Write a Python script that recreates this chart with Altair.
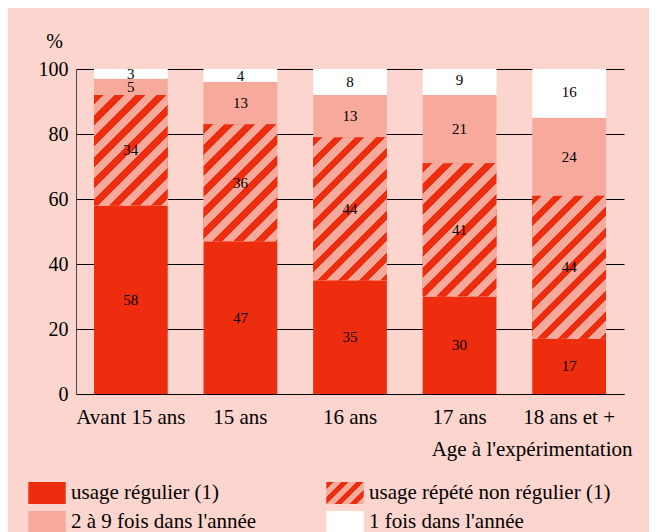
import json
import altair as alt
import pandas as pd

# ---------------- data ----------------
ages = ["Avant 15 ans", "15 ans", "16 ans", "17 ans", "18 ans et +"]
categories = [
    "usage régulier (1)",
    "usage répété non régulier (1)",
    "2 à 9 fois dans l'année",
    "1 fois dans l'année",
]
regulier = [58, 47, 35, 30, 17]
repete = [34, 36, 44, 41, 44]
deux_neuf = [5, 13, 13, 21, 24]
une_fois = [3, 4, 8, 9, 16]
y_ticks = [0, 20, 40, 60, 80, 100]

# ---------------- style ----------------
RED = "#EE2D0E"
SALMON = "#F7AA9B"
WHITE = "#FFFFFF"
BG = "#FCD5CE"
SERIF = "'Liberation Serif', 'Times New Roman', serif"

W, H = 548, 325
P_IN, P_OUT = 0.327, 0.164
bw = W / (len(ages) - P_IN + 2 * P_OUT) * (1 - P_IN)
px_per_unit = H / 100.0


def hatch(w, h, period, frac):
    """Diagonal '/' stripes as a linear gradient in bbox units."""
    L = w + h
    s = w * L / (w * w + h * h)
    stops = []
    pos = 0.0
    while pos < L:
        a = round(pos / L, 5)
        b = round(min((pos + frac * period) / L, 1), 5)
        c = round(min((pos + period) / L, 1), 5)
        stops += [
            {"offset": a, "color": RED},
            {"offset": b, "color": RED},
            {"offset": b, "color": SALMON},
            {"offset": c, "color": SALMON},
        ]
        pos += period
    return {"gradient": "linear", "x1": 0, "y1": 0,
            "x2": round(s, 5), "y2": round(s * h / w, 5), "stops": stops}


rows = []
for i, a in enumerate(ages):
    for j, vals in enumerate([regulier, repete, deux_neuf, une_fois]):
        rows.append({"age": a, "cat": categories[j], "order": j, "value": vals[i]})
df = pd.DataFrame(rows)

legend_hatch = hatch(37.4, 22, 15, 0.45)

base = alt.Chart(df).transform_stack(
    stack="value", groupby=["age"], as_=["y0", "y1"],
    sort=[alt.SortField("order", order="ascending")],
).transform_calculate(mid="(datum.y0 + datum.y1) / 2")

x_enc = alt.X(
    "age:N", sort=ages,
    scale=alt.Scale(domain=ages, paddingInner=P_IN, paddingOuter=P_OUT),
    axis=alt.Axis(
        title="Age à l'expérimentation", labelAngle=0, ticks=False,
        domainColor="black", domainWidth=1,
        labelFont=SERIF, labelFontSize=21, labelColor="black", labelPadding=12,
        titleFont=SERIF, titleFontSize=21, titleFontWeight="normal", titleColor="black",
        titleAlign="right", titleX=556, titleY=55, titleBaseline="middle",
    ),
)

y_axis = alt.Axis(
    title="%", titleAngle=0, titleX=-22, titleY=-28, titleAlign="center",
    titleBaseline="middle", titleFont=SERIF, titleFontSize=20,
    titleFontWeight="normal", titleColor="black",
    values=y_ticks, grid=True, gridColor="black", gridWidth=1, gridOpacity=1,
    ticks=False, domainColor="#444444", domainWidth=1,
    labelFont=SERIF, labelFontSize=20, labelColor="black", labelPadding=8,
)
y_scale = alt.Scale(domain=[0, 100], nice=False)

bars = base.mark_bar(clip=True).encode(
    x=x_enc,
    y=alt.Y("y0:Q", scale=y_scale, axis=y_axis),
    y2="y1:Q",
    color=alt.Color(
        "cat:N",
        scale=alt.Scale(domain=categories,
                        range=[RED, {"expr": json.dumps(legend_hatch)}, SALMON, WHITE]),
        legend=alt.Legend(
            title=None, orient="none", legendX=-40, legendY=413,
            direction="horizontal",
            columns=2, columnPadding=69, rowPadding=7, padding=0,
            symbolType="M-1.7,-1H1.7V1H-1.7Z", symbolSize=484,
            symbolStrokeWidth=0, symbolOpacity=1,
            labelFont=SERIF, labelFontSize=21, labelColor="black",
            labelOffset=13, labelLimit=0,
        ),
    ),
)

hatch_layers = []
for i, a in enumerate(ages):
    hatch_layers.append(
        base.transform_filter(
            (alt.datum.age == a) & (alt.datum.order == 1)
        ).mark_bar(clip=True, fill=hatch(bw, repete[i] * px_per_unit, 21, 0.45)).encode(
            x=x_enc,
            y=alt.Y("y0:Q", scale=y_scale, axis=y_axis),
            y2="y1:Q",
        )
    )

labels = base.mark_text(font=SERIF, fontSize=15, color="black").encode(
    x=x_enc,
    y=alt.Y("mid:Q", scale=y_scale, axis=y_axis),
    text="value:Q",
)

chart = alt.layer(bars, *hatch_layers, labels).properties(
    width=W, height=H,
    autosize=alt.AutoSizeParams(type="none"),
    padding={"left": 68, "top": 61, "right": 25, "bottom": 160},
    background=BG,
).configure_view(stroke=None)

chart.save("out.html", embed_options={"renderer": "svg", "actions": False})
